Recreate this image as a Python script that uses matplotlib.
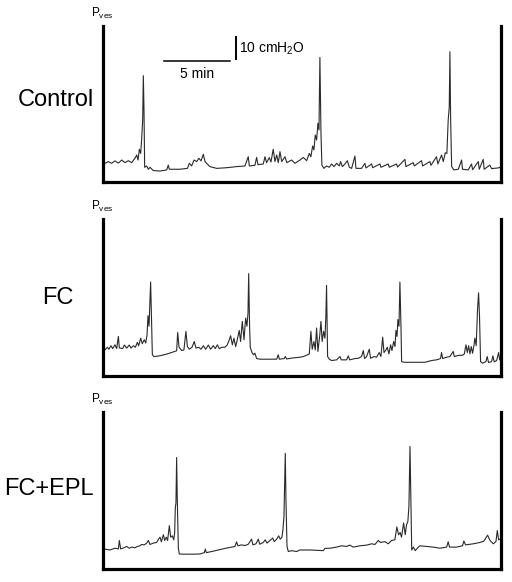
"""Bladder pressure (Pves) traces: Control, FC and FC+EPL."""

import matplotlib

matplotlib.use("Agg")
import matplotlib.pyplot as plt

plt.rcParams["font.family"] = ["Liberation Sans", "DejaVu Sans"]
plt.rcParams["mathtext.fontset"] = "custom"
plt.rcParams["mathtext.rm"] = "Liberation Sans"
plt.rcParams["mathtext.default"] = "regular"

# time in min, pressure in cmH2O
ctrl_t = [0.15, 0.40, 0.65, 0.90, 1.16, 1.41, 1.66, 1.91, 2.16, 2.41, 2.54, 2.64, 2.74, 2.84,
          2.91, 2.99, 3.04, 3.09, 3.14, 3.29, 3.42, 3.54, 3.79, 4.30, 4.80, 4.92, 5.00, 5.80,
          6.36, 6.51, 6.68, 6.86, 7.06, 7.23, 7.39, 7.56, 7.69, 7.86, 8.06, 8.57, 9.32, 10.07,
          10.70, 10.95, 11.03, 11.45, 11.58, 11.68, 12.08, 12.21, 12.33, 12.53, 12.66, 12.83,
          12.96, 13.09, 13.21, 13.34, 13.47, 13.72, 13.85, 14.22, 14.47, 14.85, 15.10, 15.35,
          15.55, 15.67, 15.80, 15.90, 16.00, 16.10, 16.20, 16.28, 16.35, 16.43, 16.50, 16.65,
          16.85, 17.06, 17.23, 17.41, 17.61, 17.81, 17.91, 18.04, 18.24, 18.42, 18.57, 18.74,
          18.99, 19.07, 19.49, 19.74, 19.82, 20.25, 20.32, 20.87, 20.95, 21.50, 21.58, 22.13,
          22.20, 22.76, 22.83, 23.39, 23.46, 24.01, 24.09, 24.64, 24.72, 25.14, 25.24, 25.52,
          25.65, 25.80, 25.92, 26.02, 26.10, 26.15, 26.20, 26.28, 26.45, 26.78, 27.03, 27.10,
          27.53, 27.78, 27.86, 28.29, 28.36, 28.66, 28.73, 29.16, 29.29, 29.79, 29.95]
ctrl_p = [8.5, 9.3, 8.5, 9.6, 8.6, 10.0, 8.8, 9.7, 8.8, 10.8, 12.3, 10.0, 14.9, 13.0,
          19.1, 28.2, 48.4, 32.8, 6.7, 7.3, 5.8, 6.7, 5.2, 5.0, 5.5, 7.7, 5.8, 5.8,
          6.2, 8.5, 7.3, 10.0, 9.3, 10.8, 9.6, 12.6, 9.3, 8.2, 7.0, 6.2, 6.5, 7.0,
          7.3, 11.5, 7.3, 7.6, 11.2, 7.9, 8.2, 11.5, 8.8, 11.1, 9.1, 14.9,
          9.3, 12.3, 8.8, 13.8, 9.3, 11.5, 8.8, 10.0, 8.5, 10.0, 11.2, 9.7,
          13.0, 11.5, 16.4, 14.6, 21.4, 19.1, 26.7, 23.7, 56.7, 22.1, 7.7, 6.2,
          7.3, 6.7, 8.2, 7.0, 8.5, 7.3, 9.3, 7.0, 8.2, 9.7, 6.7, 6.2,
          11.8, 6.2, 6.2, 8.5, 6.4, 8.2, 6.5, 8.2, 6.7, 8.2, 6.7, 8.2,
          6.8, 10.3, 7.0, 8.8, 7.3, 9.7, 7.3, 9.3, 7.6, 11.5, 8.2, 12.3,
          9.3, 13.3, 13.0, 28.2, 34.3, 59.3, 29.7, 7.0, 5.5, 5.8, 10.0, 5.8,
          5.5, 8.2, 5.6, 9.3, 5.8, 10.3, 5.8, 7.7, 6.1, 6.4, 6.7]

fc_t = [0.15, 0.33, 0.45, 0.60, 0.73, 0.90, 1.03, 1.16, 1.23, 1.48, 1.61, 1.78, 1.98, 2.11,
        2.29, 2.44, 2.59, 2.69, 2.84, 2.96, 3.11, 3.22, 3.32, 3.39, 3.47, 3.59, 3.67, 3.72,
        3.84, 4.17, 4.80, 5.30, 5.55, 5.63, 5.73, 5.93, 6.10, 6.25, 6.36, 6.51, 6.71, 6.88,
        7.01, 7.21, 7.39, 7.56, 7.74, 7.94, 8.11, 8.31, 8.47, 8.62, 8.77, 8.97, 9.19, 9.37,
        9.52, 9.62, 9.75, 9.87, 10.00, 10.12, 10.27, 10.37, 10.50, 10.63, 10.75, 10.85, 10.93,
        10.98, 11.05, 11.10, 11.23, 11.35, 11.45, 11.58, 11.83, 13.09, 13.21, 13.29, 13.66,
        13.74, 13.84, 14.34, 14.85, 15.10, 15.35, 15.55, 15.67, 15.77, 15.90, 16.00, 16.10,
        16.20, 16.33, 16.43, 16.52, 16.63, 16.73, 16.80, 16.85, 16.93, 17.06, 17.23, 17.61,
        17.86, 17.96, 18.36, 18.49, 18.59, 19.00, 19.24, 19.49, 19.62, 19.72, 19.87, 20.07,
        20.17, 20.42, 20.62, 20.82, 20.95, 21.08, 21.18, 21.33, 21.43, 21.55, 21.68, 21.78,
        21.91, 22.01, 22.08, 22.16, 22.23, 22.31, 22.38, 22.46, 22.51, 22.68, 24.26, 24.77,
        25.14, 25.44, 25.52, 25.60, 25.90, 26.15, 26.40, 26.48, 26.78, 27.10, 27.23, 27.36,
        27.46, 27.56, 27.66, 27.76, 27.86, 27.96, 28.03, 28.13, 28.23, 28.31, 28.38, 28.46,
        28.61, 28.86, 28.96, 29.06, 29.29, 29.39, 29.49, 29.67, 29.82, 29.90]
fc_p = [11.8, 13.0, 12.1, 13.7, 12.4, 14.1, 12.4, 17.9, 12.7, 12.4, 14.0, 12.6, 14.0, 12.6,
        13.7, 13.0, 15.2, 13.7, 17.1, 14.6, 16.4, 14.9, 18.7, 27.3, 22.5, 42.5, 22.5, 9.6,
        8.8, 9.0, 9.9, 10.9, 11.4, 19.7, 13.0, 11.5, 11.8, 20.2, 13.3, 12.1, 13.0, 15.6,
        12.6, 13.0, 12.1, 13.7, 12.1, 14.0, 12.1, 13.7, 12.4, 14.1, 12.4, 13.0, 13.0, 14.1,
        16.4, 18.2, 14.1, 17.1, 13.3, 16.4, 20.6, 15.6, 24.7, 16.4, 26.2, 22.5, 28.5,
        46.3, 22.5, 13.0, 10.6, 9.6, 10.3, 7.9, 7.6, 7.6, 9.6, 7.6, 7.9,
        8.8, 7.7, 8.2, 8.5, 8.8, 9.4, 10.0, 20.2, 12.1, 15.6, 11.8, 21.7,
        11.1, 17.9, 24.7, 15.6, 20.2, 17.1, 27.0, 41.0, 8.8, 7.6, 7.0, 7.3,
        8.8, 7.3, 7.3, 9.1, 7.3, 7.9, 8.0, 8.8, 11.5, 7.9, 8.8, 12.1,
        8.0, 8.8, 8.5, 10.6, 8.8, 17.6, 10.6, 11.8, 13.0, 10.0, 14.1, 11.5,
        15.6, 13.3, 20.6, 17.9, 25.5, 22.5, 42.5, 22.5, 6.5, 6.2, 6.2, 7.0,
        7.3, 7.9, 10.6, 7.9, 8.5, 8.8, 11.1, 8.8, 9.3, 9.4, 9.9, 14.1,
        10.6, 13.7, 10.0, 13.3, 10.3, 13.7, 17.1, 13.7, 30.0, 37.6, 27.0, 6.5,
        5.8, 6.5, 8.8, 6.1, 6.5, 9.1, 6.4, 7.0, 10.6, 7.3]

epl_t = [0.15, 0.53, 0.90, 1.16, 1.23, 1.33, 1.58, 1.78, 1.98, 2.16, 2.41, 2.59, 2.79, 2.91,
         3.11, 3.29, 3.42, 3.54, 3.79, 4.04, 4.19, 4.30, 4.40, 4.55, 4.65, 4.77, 4.87, 5.00,
         5.10, 5.23, 5.33, 5.40, 5.45, 5.50, 5.55, 5.60, 5.68, 5.75, 6.05, 6.81, 7.31, 7.64,
         7.71, 7.79, 8.19, 8.69, 9.19, 9.70, 9.95, 10.07, 10.17, 10.45, 10.70, 10.95, 11.20,
         11.30, 11.53, 11.71, 11.81, 12.08, 12.23, 12.36, 12.58, 12.79, 12.91, 13.09, 13.24,
         13.36, 13.49, 13.56, 13.64, 13.74, 13.79, 13.87, 13.97, 14.22, 14.59, 14.85, 15.60,
         16.61, 16.72, 17.11, 17.61, 17.98, 18.36, 18.61, 18.86, 19.37, 19.87, 20.25, 20.50,
         20.75, 20.92, 21.25, 21.50, 21.75, 22.00, 22.15, 22.28, 22.40, 22.50, 22.66, 22.78,
         22.88, 22.98, 23.06, 23.14, 23.21, 23.27, 23.39, 23.54, 23.69, 23.89, 24.39, 24.90,
         25.40, 25.90, 26.02, 26.12, 26.65, 27.10, 27.20, 27.33, 27.91, 28.41, 28.71, 28.99,
         29.17, 29.42, 29.62, 29.72, 29.82, 29.92]
epl_p = [9.0, 8.6, 9.4, 9.1, 12.9, 9.1, 9.6, 10.2, 9.4, 9.9, 9.6, 10.2, 10.5, 11.1,
         10.9, 11.7, 12.9, 11.1, 11.7, 12.0, 13.5, 14.4, 12.3, 15.5, 12.9, 14.4, 12.9, 19.6,
         14.4, 15.0, 13.2, 16.2, 27.6, 29.9, 50.4, 31.4, 9.4, 6.8, 6.7, 6.7, 6.8, 7.4,
         9.0, 7.4, 7.9, 8.6, 9.3, 9.9, 10.2, 12.3, 10.5, 10.9, 10.6, 11.2, 13.5,
         10.9, 11.4, 13.5, 11.2, 12.0, 13.2, 11.7, 12.9, 14.0, 12.4, 13.5, 15.0,
         13.5, 14.4, 17.7, 23.8, 52.3, 31.4, 10.2, 7.9, 8.3, 7.9, 8.6, 8.6,
         8.3, 9.3, 9.4, 9.9, 10.5, 10.2, 10.8, 9.9, 10.5, 10.8, 11.4, 11.1,
         12.9, 12.0, 12.4, 11.4, 12.9, 13.2, 19.0, 15.5, 16.5, 14.4, 20.8, 15.5,
         20.0, 21.5, 28.4, 55.4, 31.4, 8.6, 9.9, 8.3, 9.4, 10.5, 10.2, 9.9,
         9.4, 9.9, 12.3, 9.9, 9.9, 10.5, 12.7, 10.9, 11.4, 12.0, 12.6, 15.3,
         12.9, 11.4, 12.4, 17.4, 13.2, 13.5]

labels = ["Control", "FC", "FC+EPL"]
traces = [(ctrl_t, ctrl_p), (fc_t, fc_p), (epl_t, epl_p)]

T_MAX = 30.0   # min shown per panel
P_MAX = 71.0   # cmH2O shown per panel

W, H = 512, 582
fig = plt.figure(figsize=(W / 100, H / 100), dpi=100)

# panel boxes in pixels: (top, bottom); label centre (x, y)
boxes = [(26, 182), (219, 376), (412, 569)]
label_pos = [(55.5, 100), (57.5, 298), (48.5, 489)]
x0, x1 = 103, 501

axes = []
for (top, bot), name, (lx, ly), (t, p) in zip(boxes, labels, label_pos, traces):
    ax = fig.add_axes([x0 / W, 1 - bot / H, (x1 - x0) / W, (bot - top) / H])
    ax.plot(t, p, color="#2a2a2a", lw=0.8)
    ax.set_xlim(0, T_MAX)
    ax.set_ylim(0, P_MAX)
    ax.set_xticks([])
    ax.set_yticks([])
    ax.spines["top"].set_visible(False)
    for s in ("left", "right", "bottom"):
        ax.spines[s].set_linewidth(2.3)
    ax.text(-0.03, 1.03, r"P$_{ves}$", transform=ax.transAxes,
            fontsize=8.5, ha="left", va="bottom")
    fig.text(lx / W, 1 - ly / H, name, fontsize=17, ha="center", va="center")
    axes.append(ax)

# scale bars: 5 min / 10 cmH2O
ax = axes[0]
ax.plot([4.6, 9.6], [55, 55], color="black", lw=1.1, clip_on=False)
ax.plot([10.0, 10.0], [56, 66], color="black", lw=1.4, clip_on=False)
ax.text(7.1, 52.5, "5 min", fontsize=10, ha="center", va="top")
ax.text(10.25, 60.5, "10 cmH$_2$O", fontsize=10, ha="left", va="center")

fig.savefig("out.png", dpi=100, facecolor="white")
